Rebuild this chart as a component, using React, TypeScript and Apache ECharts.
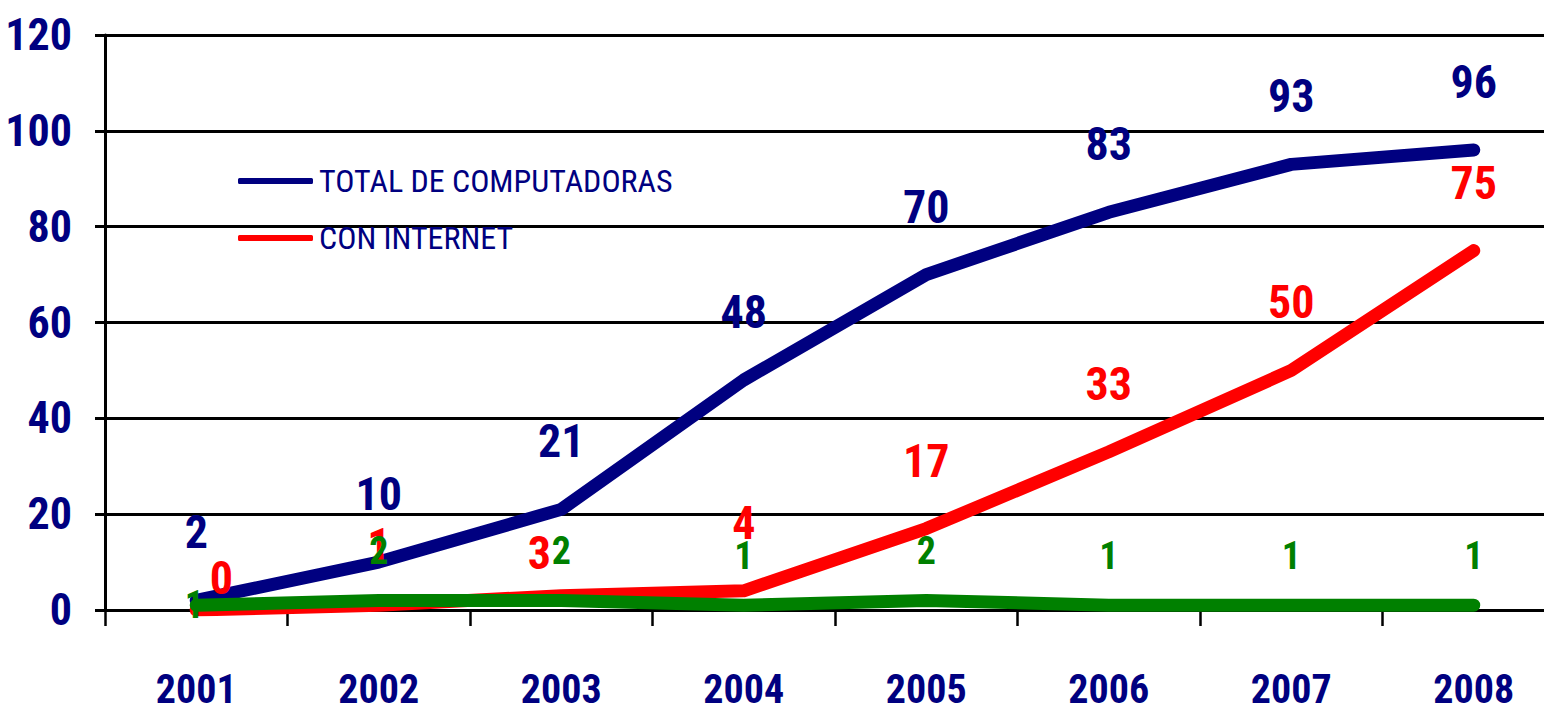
import React, { useEffect, useRef } from "react";
import * as echarts from "echarts";

const years = ["2001", "2002", "2003", "2004", "2005", "2006", "2007", "2008"];
const totalComputadoras = [2, 10, 21, 48, 70, 83, 93, 96];
const conInternet = [0, 1, 3, 4, 17, 33, 50, 75];
const otraSerie = [1, 2, 2, 1, 2, 1, 1, 1];
const yTicks = { min: 0, max: 120, interval: 20 };

const NAVY = "#000080";
const RED = "#FF0000";
const GREEN = "#008000";
const FONT = '"Roboto Condensed", "Open Sans Condensed", "DejaVu Sans Condensed", sans-serif';

// label offsets (layout only)
const redOffsets: Record<number, [number, number]> = {
  0: [25, -32],
  1: [0, -60],
  2: [-22, -43],
};
const greenOffsets: Record<number, [number, number]> = {
  0: [-2, 0],
};

export default function App() {
  const ref = useRef<HTMLDivElement>(null);
  useEffect(() => {
    if (!ref.current) return;
    const chart = echarts.init(ref.current, undefined, { renderer: "svg" });
    const mk = (vals: number[], offsets: Record<number, [number, number]>) =>
      vals.map((v, i) =>
        offsets[i] ? { value: v, label: { offset: offsets[i] } } : { value: v }
      );
    chart.setOption({
      animation: false,
      backgroundColor: "#fff",
      color: [NAVY, RED, GREEN],
      grid: {
        left: 105,
        right: 0,
        top: 35,
        bottom: 105,
        containLabel: false,
        outerBoundsMode: "none",
      },
      legend: {
        data: ["TOTAL DE COMPUTADORAS", "CON INTERNET"],
        orient: "vertical",
        left: 233,
        top: 159,
        icon: "roundRect",
        itemWidth: 75,
        itemHeight: 6,
        itemGap: 23,
        textStyle: {
          color: NAVY,
          fontFamily: FONT,
          fontSize: 32,
          lineHeight: 34,
          padding: [0, 0, 0, 1],
        },
      },
      xAxis: {
        type: "category",
        data: years,
        boundaryGap: true,
        axisLine: { show: true, lineStyle: { color: "#000", width: 3 } },
        axisTick: { show: true, length: 16, interval: 0, lineStyle: { color: "#000", width: 2.5 } },
        axisLabel: {
          color: NAVY,
          fontFamily: FONT,
          fontWeight: "bold",
          fontSize: 40,
          margin: 59,
        },
        splitLine: { show: false },
      },
      yAxis: {
        type: "value",
        min: yTicks.min,
        max: yTicks.max,
        interval: yTicks.interval,
        axisLine: { show: true, lineStyle: { color: "#000", width: 3 } },
        axisTick: { show: true, length: 10, lineStyle: { color: "#000", width: 3 } },
        axisLabel: {
          color: NAVY,
          fontFamily: FONT,
          fontWeight: "bold",
          fontSize: 44,
          margin: 33,
        },
        splitLine: { show: true, lineStyle: { color: "#000", width: 3 } },
      },
      series: [
        {
          name: "TOTAL DE COMPUTADORAS",
          type: "line",
          data: mk(totalComputadoras, {}),
          symbol: "circle",
          symbolSize: 1,
          itemStyle: { color: NAVY },
          lineStyle: { color: NAVY, width: 13, cap: "round", join: "round" },
          label: {
            show: true,
            position: "inside",
            offset: [0, -68],
            color: NAVY,
            fontFamily: FONT,
            fontWeight: "bold",
            fontSize: 46,
          },
          z: 2,
        },
        {
          name: "CON INTERNET",
          type: "line",
          data: mk(conInternet, redOffsets),
          symbol: "circle",
          symbolSize: 1,
          itemStyle: { color: RED },
          lineStyle: { color: RED, width: 13, cap: "round", join: "round" },
          label: {
            show: true,
            position: "inside",
            offset: [0, -68],
            color: RED,
            fontFamily: FONT,
            fontWeight: "bold",
            fontSize: 46,
          },
          z: 3,
        },
        {
          name: "Serie 3",
          type: "line",
          data: mk(otraSerie, greenOffsets),
          symbol: "circle",
          symbolSize: 1,
          itemStyle: { color: GREEN },
          lineStyle: { color: GREEN, width: 13, cap: "round", join: "round" },
          label: {
            show: true,
            position: "inside",
            offset: [0, -49],
            color: GREEN,
            fontFamily: FONT,
            fontWeight: "bold",
            fontSize: 38,
          },
          z: 4,
        },
      ],
    });
    return () => chart.dispose();
  }, []);
  return (
    <div
      style={{
        position: "fixed",
        left: 0,
        top: 0,
        width: 1544,
        height: 715,
        overflow: "hidden",
        background: "#fff",
      }}
    >
      <div ref={ref} style={{ width: 1565, height: 715 }} />
    </div>
  );
}
